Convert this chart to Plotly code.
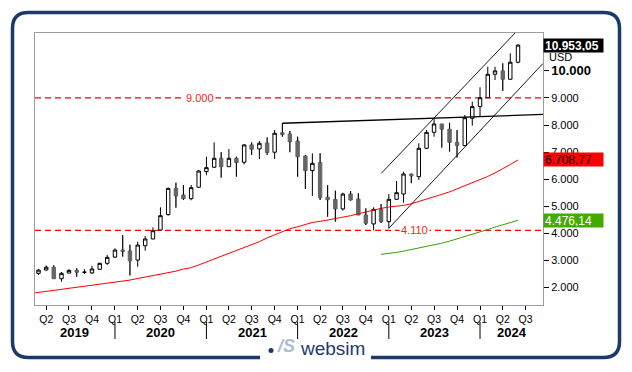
import plotly.graph_objects as go
import pandas as pd

# ---------------- data ----------------
months = pd.date_range("2019-03-01", "2024-06-01", freq="MS")

open_ = [2520, 2645, 2745, 2321, 2530, 2630, 2555, 2535, 2670, 2890,
         3120, 3380, 3345, 3010, 3540, 3790, 4120, 4690, 5660, 5415,
         5280, 5700, 6280, 6440, 6770, 6460, 6770, 6625, 7265, 7115,
         7335, 6995, 7715, 7670, 7410, 6855, 6315, 6610, 5330, 5255,
         4900, 5450, 5265, 4675, 4345, 4885, 4430, 5255, 5450, 6190,
         6090, 7140, 7730, 8040, 7845, 7360, 7240, 8250, 8680, 9010,
         9875, 10000, 9690, 10320]
high = [2680, 2815, 2815, 2570, 2670, 2705, 2670, 2800, 2910, 3200,
        3445, 3935, 3580, 3690, 3900, 4220, 4960, 5685, 5870, 5785,
        5785, 6340, 6830, 7360, 6995, 7115, 6830, 7300, 7360, 7410,
        7545, 7815, 8065, 7780, 7570, 6890, 6955, 6955, 5780, 5575,
        5500, 5560, 5480, 4925, 4960, 5080, 5450, 5930, 6275, 6200,
        7325, 7815, 8250, 8045, 8085, 7815, 8370, 8865, 9395, 10155,
        10155, 10280, 10650, 10985]
low = [2460, 2615, 2315, 2210, 2525, 2395, 2495, 2495, 2665, 2830,
       3085, 3135, 2440, 2765, 3355, 3780, 4100, 4650, 4945, 5230,
       5220, 5690, 6145, 6415, 6055, 6455, 6090, 6550, 6895, 6745,
       6895, 6745, 7570, 6995, 6090, 5635, 5380, 5230, 4610, 4430,
       4835, 5210, 4670, 4305, 4110, 4380, 4185, 5245, 5130, 5850,
       5970, 7130, 7570, 7165, 7015, 6795, 7230, 7975, 8335, 9000,
       9665, 9260, 9680, 10280]
close = [2640, 2745, 2320, 2521, 2630, 2560, 2565, 2680, 2890, 3110,
         3380, 3330, 2985, 3565, 3790, 4095, 4650, 5660, 5380, 5280,
         5685, 6300, 6425, 6770, 6460, 6770, 6610, 7265, 7105, 7325,
         6980, 7695, 7645, 7385, 6830, 6315, 6585, 5315, 5240, 4900,
         5450, 5230, 4675, 4370, 4885, 4430, 5255, 5500, 6190, 6120,
         7140, 7730, 8040, 7845, 7360, 7240, 8270, 8680, 9010, 9875,
         10000, 9690, 10320, 10953.05]

red_ma_dates = pd.date_range("2019-02-01", "2024-06-01", freq="MS")
red_ma = [1780, 1815, 1850, 1880, 1915, 1950, 1985, 2030, 2070, 2110,
          2150, 2185, 2220, 2270, 2330, 2380, 2430, 2470, 2520, 2600,
          2680, 2730, 2830, 2940, 3040, 3140, 3240, 3350, 3470, 3580,
          3690, 3830, 3950, 4070, 4170, 4240, 4330, 4400, 4440, 4485,
          4540, 4600, 4650, 4720, 4790, 4850, 4920, 4970, 5000, 5030,
          5090, 5170, 5260, 5350, 5440, 5530, 5640, 5760, 5870, 5970,
          6100, 6230, 6380, 6540, 6708.77]

green_ma_dates = pd.date_range("2022-12-01", "2024-06-01", freq="MS")
green_ma = [3220, 3250, 3295, 3340, 3395, 3450, 3510, 3568, 3635, 3710,
            3790, 3870, 3960, 4050, 4140, 4230, 4320, 4400, 4476.14]

resist_x = ["2021-11-01", "2024-09-09"]
resist_y = [8065, 8390]
chan_up_x = ["2022-12-02", "2024-06-01"]
chan_up_y = [6217, 11513]
chan_lo_x = ["2023-01-01", "2024-09-09"]
chan_lo_y = [4185, 10275]

level_values = [9000, 4110]
level_labels = ["9.000", "4.110"]
level_label_x = ["2020-12-06", "2023-04-15"]

y_ticks = [2000, 3000, 4000, 5000, 6000, 7000, 8000, 9000, 10000, 11000]
y_ticktext = ["2.000", "3.000", "4.000", "5.000", "6.000", "7.000", "8.000",
              "9.000", '<span style="font-size:13px"><b>10.000</b></span>', "11.000"]

q_ticks = pd.date_range("2019-04-01", "2024-07-01", freq="QS")
q_text = ["Q%d" % ((d.month - 1) // 3 + 1) for d in q_ticks]
years = [2019, 2020, 2021, 2022, 2023, 2024]

badges = [("10.953,05", 10953.05, "#000000", "white", True),
          ("6.708,77", 6708.77, "#ff0000", "black", False),
          ("4.476,14", 4476.14, "#44aa00", "white", False)]

x_range = ["2019-02-15", "2024-09-09"]
y_range = [1350, 11400]

# ---------------- layout helpers (pixel -> paper) ----------------
ML, MR, MT, MB = 35, 89, 33, 67
W, H = 632, 372
PW, PH = W - ML - MR, H - MT - MB


def px(x):
    return (x - ML) / PW


def py(y):
    return (H - MB - y) / PH


FONT = "Liberation Sans, Arial, sans-serif"
NAVY = "#1b3a6b"

fig = go.Figure()

# moving averages
fig.add_trace(go.Scatter(x=red_ma_dates, y=red_ma, mode="lines",
                         line=dict(color="#ff0000", width=1), hoverinfo="skip"))
fig.add_trace(go.Scatter(x=green_ma_dates, y=green_ma, mode="lines",
                         line=dict(color="#3aa000", width=1), hoverinfo="skip"))

# candles
fig.add_trace(go.Candlestick(
    x=months, open=open_, high=high, low=low, close=close,
    increasing=dict(line=dict(color="black", width=1), fillcolor="white"),
    decreasing=dict(line=dict(color="#666666", width=1), fillcolor="#666666"),
    whiskerwidth=0, hoverinfo="skip"))

# black wicks for falling candles (outside the body only)
wx, wy = [], []
for d, o, h, l, c in zip(months, open_, high, low, close):
    if c < o:
        wx += [d, d, None, d, d, None]
        wy += [h, o, None, c, l, None]
fig.add_trace(go.Scatter(x=wx, y=wy, mode="lines",
                         line=dict(color="black", width=1), hoverinfo="skip"))

# trend lines
fig.add_trace(go.Scatter(x=resist_x, y=resist_y, mode="lines",
                         line=dict(color="black", width=1.3), hoverinfo="skip"))
fig.add_trace(go.Scatter(x=chan_up_x, y=chan_up_y, mode="lines",
                         line=dict(color="black", width=0.9), hoverinfo="skip"))
fig.add_trace(go.Scatter(x=chan_lo_x, y=chan_lo_y, mode="lines",
                         line=dict(color="black", width=0.9), hoverinfo="skip"))

shapes = []
annotations = []

# dashed levels
for v, t, lx in zip(level_values, level_labels, level_label_x):
    shapes.append(dict(type="line", xref="paper", x0=0, x1=1, yref="y", y0=v, y1=v,
                       line=dict(color="#ff0000", width=1.2, dash="6px,4px"), layer="below"))
    annotations.append(dict(x=lx, y=v, xref="x", yref="y", text=t, showarrow=False,
                            font=dict(family=FONT, size=11, color="#ff2020"),
                            bgcolor="white", borderpad=1))

# year labels and separators
xr0, xr1 = pd.Timestamp(x_range[0]), pd.Timestamp(x_range[1])
for yr in years:
    s = max(xr0, pd.Timestamp(f"{yr}-01-01"))
    e = min(xr1, pd.Timestamp(f"{yr + 1}-01-01"))
    mid = s + (e - s) / 2
    annotations.append(dict(x=mid, y=py(332), xref="x", yref="paper", text=f"<b>{yr}</b>",
                            showarrow=False, font=dict(family=FONT, size=13, color="black"),
                            yanchor="middle", borderpad=0))
    if yr > years[0]:
        shapes.append(dict(type="line", xref="x", x0=f"{yr}-01-01", x1=f"{yr}-01-01",
                           yref="paper", y0=py(322), y1=py(339),
                           line=dict(color="black", width=1)))

# value badges
for text, val, bg, fc, bold in badges:
    annotations.append(dict(x=1, y=val, xref="paper", yref="y", xanchor="left",
                            yanchor="middle", text=f"<b>{text}</b>" if bold else text,
                            showarrow=False, align="left", width=57, height=11,
                            bgcolor=bg, borderpad=1,
                            font=dict(family=FONT, size=12, color=fc)))
annotations.append(dict(x=1, y=py(57), xref="paper", yref="paper", xanchor="left",
                        xshift=4, yanchor="middle", text="USD", showarrow=False,
                        font=dict(family=FONT, size=11, color="black")))

# outer rounded frame with gap for logo
L, T, R, B, r = 12.5, 12.5, 619.5, 357.5, 16
path = (f"M {px(260)},{py(B)} L {px(L + r)},{py(B)} Q {px(L)},{py(B)} {px(L)},{py(B - r)} "
        f"L {px(L)},{py(T + r)} Q {px(L)},{py(T)} {px(L + r)},{py(T)} "
        f"L {px(R - r)},{py(T)} Q {px(R)},{py(T)} {px(R)},{py(T + r)} "
        f"L {px(R)},{py(B - r)} Q {px(R)},{py(B)} {px(R - r)},{py(B)} L {px(371)},{py(B)}")
shapes.append(dict(type="path", xref="paper", yref="paper", path=path,
                   line=dict(color=NAVY, width=3.5)))

# logo
shapes.append(dict(type="circle", xref="paper", yref="paper",
                   x0=px(268.5), x1=px(273.5), y0=py(353), y1=py(348),
                   fillcolor=NAVY, line=dict(width=0)))
annotations.append(dict(x=px(285.5), y=py(357), xref="paper", yref="paper",
                        text="<b><i>/S</i></b>", showarrow=False, borderpad=0,
                        font=dict(family=FONT, size=18, color="#aebbd0")))
annotations.append(dict(x=px(332), y=py(360), xref="paper", yref="paper",
                        text="websim", showarrow=False, borderpad=0,
                        font=dict(family=FONT, size=19, color=NAVY)))

fig.update_layout(
    width=W, height=H,
    margin=dict(l=ML, r=MR, t=MT, b=MB, pad=0),
    paper_bgcolor="white", plot_bgcolor="white",
    showlegend=False, separators=",.",
    font=dict(family=FONT, size=11, color="black"),
    shapes=shapes, annotations=annotations,
    xaxis=dict(type="date", range=x_range, rangeslider=dict(visible=False),
               tickvals=q_ticks, ticktext=q_text, ticks="outside", ticklen=4,
               tickcolor="black", showgrid=False, zeroline=False,
               showline=True, linecolor="#9a9aa8", linewidth=1, mirror=True,
               tickfont=dict(family=FONT, size=10.5, color="black")),
    yaxis=dict(side="right", range=y_range, tickvals=y_ticks, ticktext=y_ticktext,
               ticks="outside", ticklen=5, tickcolor="black", showgrid=False,
               zeroline=False, showline=True, linecolor="#9a9aa8", linewidth=1,
               mirror=True, tickfont=dict(family=FONT, size=11, color="black")),
)

fig.write_html("out.html", config={"displayModeBar": False, "staticPlot": True},
               post_script="document.body.style.margin='0';document.body.style.padding='0';")
